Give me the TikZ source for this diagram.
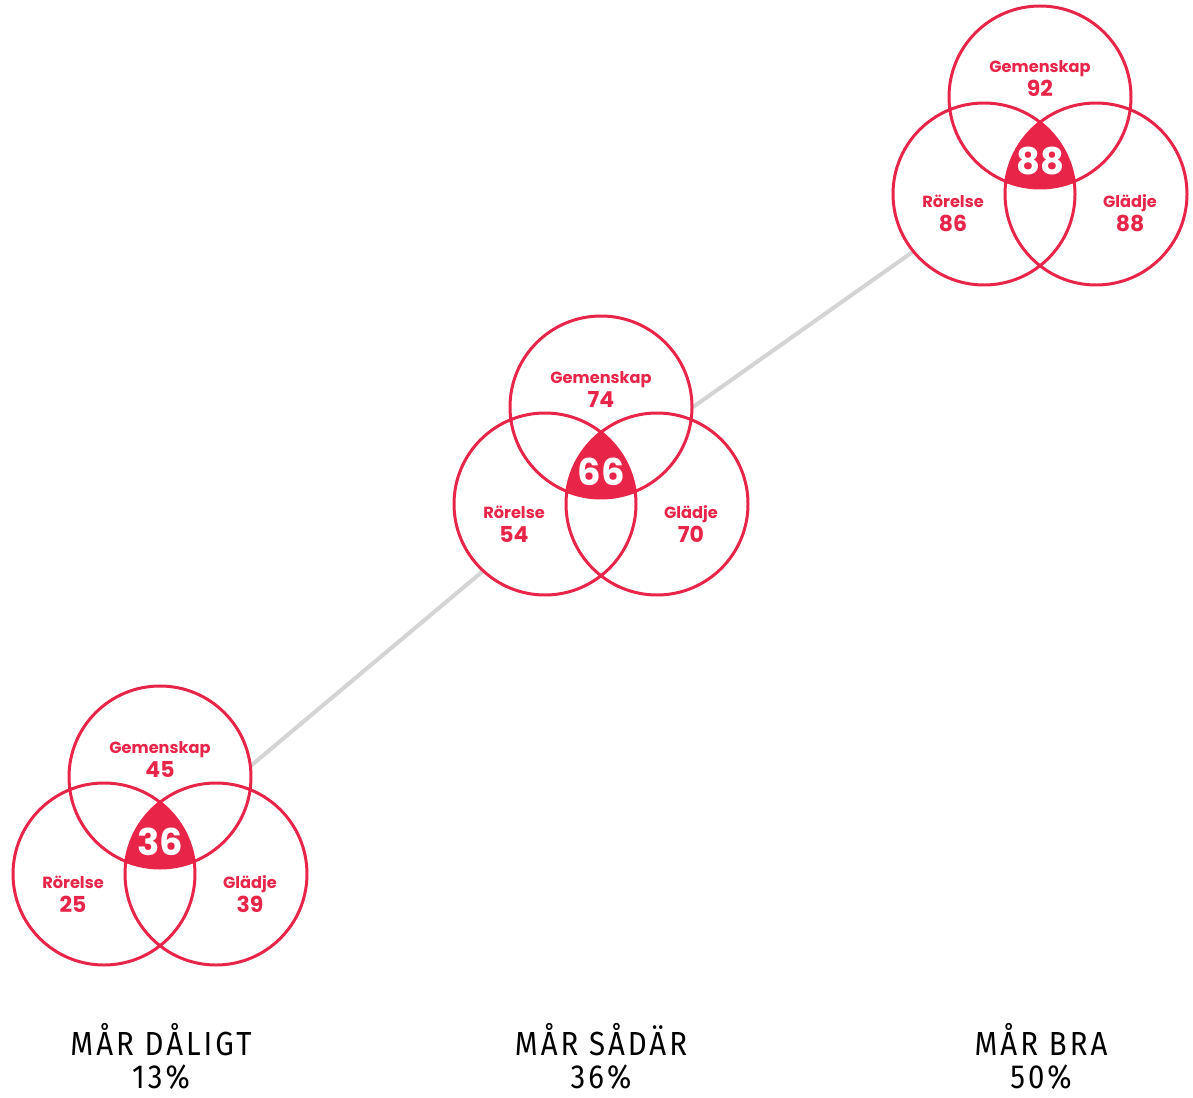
\documentclass[tikz,border=0pt]{standalone}
\usepackage{fontspec}
\setmainfont{Poppins}
\newfontfamily\capfont{Fira Sans}[FakeStretch=0.88,LetterSpace=9]
\definecolor{vennred}{RGB}{232,36,72}
\definecolor{linegray}{RGB}{212,212,212}
\tikzset{
  ring/.style={draw=vennred,line width=1.7pt},
  setname/.style={text=vennred,anchor=base,font=\bfseries\fontsize{9.2}{11}\selectfont},
  setval/.style={text=vennred,anchor=base,font=\bfseries\fontsize{12.5}{14}\selectfont},
  coreval/.style={text=white,anchor=base,font=\bfseries\fontsize{21}{24}\selectfont},
  caption/.style={anchor=base,inner ysep=0pt,font=\capfont\fontsize{19}{22}\selectfont}
}

\begin{document}
\begin{tikzpicture}[x=0.02cm,y=-0.02cm]
  \useasboundingbox (0,0) rectangle (1193,1098);

  % centres of the three diagrams
  \coordinate (v1) at (160,842);
  \coordinate (v2) at (601,472);
  \coordinate (v3) at (1040,162);

  \draw[linegray,line width=2.3pt] (v1) -- (v2) -- (v3);

  \foreach \v/\g/\r/\j/\c/\cx/\cap/\pc in
      {v1/45/25/39/36/161/MÅR DÅLIGT/13,
       v2/74/54/70/66/601/MÅR SÅDÄR/36,
       v3/92/86/88/88/1041/MÅR BRA/50} {
    \begin{scope}[shift={(\v)}]
      \fill[white] (0,-65) circle (91) (-56,32) circle (91) (56,32) circle (91);
      \begin{scope}
        \clip (0,-65) circle (91);
        \clip (-56,32) circle (91);
        \fill[vennred] (56,32) circle (91);
      \end{scope}
      \draw[ring] (0,-65) circle (91) (-56,32) circle (91) (56,32) circle (91);

      \node[setname] (\v g) at (0,-89) {Gemenskap};
      \node[setval] (\v gn) at (0,-65) {\g};
      \node[setname] (\v r) at (-87,46) {Rörelse};
      \node[setval] (\v rn) at (-87,70) {\r};
      \node[setname] (\v j) at (90,46) {Glädje};
      \node[setval] (\v jn) at (90,70) {\j};
      \node[coreval] (\v c) at (0,13) {\c};
    \end{scope}
    \node[caption] (\v cap) at (\cx,1055) {\cap};
    \node[caption] (\v pc) at (\cx,1088) {\pc\%};
  }
\end{tikzpicture}
\end{document}
